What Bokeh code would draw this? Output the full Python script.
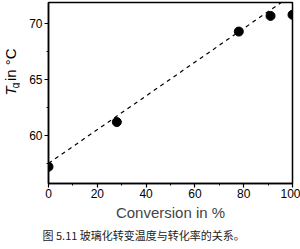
from bokeh.plotting import figure
from bokeh.models import Range1d, FixedTicker, Title
from bokeh.layouts import row
from bokeh.core.properties import value
from bokeh.embed import file_html
from bokeh.resources import INLINE
import math

# data
conversion = [0, 28, 78, 91, 100]
tg = [57.2, 61.2, 69.3, 70.7, 70.8]
fit_x = [0, 100]
fit_y = [57.5, 72.6]
x_ticks = [0, 20, 40, 60, 80, 100]
x_minor = [10, 30, 50, 70, 90]
y_ticks = [60, 65, 70]
y_minor = [57.5, 62.5, 67.5]
x_title = "Conversion in %"
caption = "图 5.11  玻璃化转变温度与转化率的关系。"

p = figure(width=280, height=249, output_backend="svg", toolbar_location=None,
           x_range=Range1d(0, 100), y_range=Range1d(55.7, 71.9),
           min_border_left=28, min_border_right=8, min_border_top=2, min_border_bottom=66)
p.background_fill_color = "white"
p.border_fill_color = "white"
p.grid.visible = False
p.outline_line_color = "black"
p.outline_line_width = 1.5

p.line(fit_x, fit_y, line_color="black", line_width=1.2, line_dash="4 4")
p.scatter(conversion, tg, size=9, color="black")

for ax in (p.xaxis[0], p.yaxis[0]):
    ax.axis_line_color = "black"
    ax.axis_line_width = 1.5
    ax.major_tick_line_color = "black"
    ax.major_tick_line_width = 1.2
    ax.minor_tick_line_color = "black"
    ax.major_tick_out = 4
    ax.major_tick_in = 0
    ax.minor_tick_out = 2
    ax.minor_tick_in = 0
    ax.major_label_text_font = "Liberation Sans"
    ax.major_label_text_font_size = "12px"
    ax.major_label_text_color = "black"
    ax.major_label_standoff = 2

p.xaxis[0].major_label_standoff = 1
p.xaxis[0].ticker = FixedTicker(ticks=x_ticks, minor_ticks=x_minor)
p.yaxis[0].ticker = FixedTicker(ticks=y_ticks, minor_ticks=y_minor)

p.xaxis[0].axis_label = x_title
p.xaxis[0].axis_label_text_font = "Liberation Sans"
p.xaxis[0].axis_label_text_font_size = "15px"
p.xaxis[0].axis_label_text_font_style = "normal"
p.xaxis[0].axis_label_standoff = 3

p.add_layout(Title(text=caption, align="left", offset=-6,
                   text_font="Noto Sans CJK SC", text_font_size="11px",
                   text_font_style="normal", text_color="#222222",
                   standoff=2), "below")

# narrow figure carrying the rotated y-axis title T_g in °C
q = figure(width=20, height=249, output_backend="svg", toolbar_location=None,
           x_range=Range1d(0, 20), y_range=Range1d(0, 249),
           min_border=0)
q.axis.visible = False
q.grid.visible = False
q.outline_line_color = None
q.background_fill_color = "white"
q.border_fill_color = "white"
q.text(x=[10], y=[121], text=["T"], angle=math.pi/2, text_font=value("Liberation Sans"),
       text_font_style="italic", text_font_size="15px", text_baseline="middle",
       text_align="left", text_color="black")
q.text(x=[15], y=[131], text=["g"], angle=math.pi/2, text_font=value("Liberation Sans"),
       text_font_size="10px", text_baseline="middle", text_align="left", text_color="black")
q.text(x=[10], y=[141], text=["in °C"], angle=math.pi/2, text_font=value("Liberation Sans"),
       text_font_size="15px", text_baseline="middle", text_align="left", text_color="black")

layout = row(q, p, spacing=0)
open("out.html", "w").write(file_html(layout, INLINE))
